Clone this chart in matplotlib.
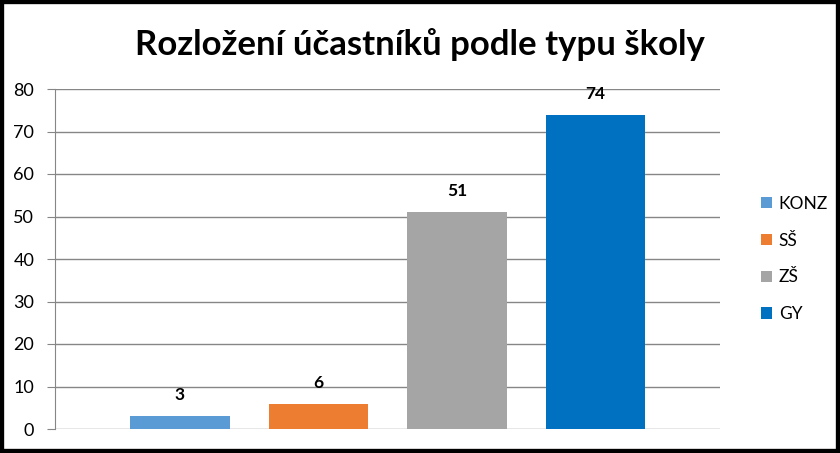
import matplotlib.pyplot as plt
from matplotlib.patches import Rectangle

categories = ["KONZ", "SŠ", "ZŠ", "GY"]
values = [3, 6, 51, 74]
colors = ["#5B9BD5", "#ED7D31", "#A5A5A5", "#0070C0"]
yticks = [0, 10, 20, 30, 40, 50, 60, 70, 80]

plt.rcParams['font.family'] = ['Lato', 'DejaVu Sans']

W, H = 840, 453
fig = plt.figure(figsize=(W / 100, H / 100), dpi=100)
ax = fig.add_axes([55 / W, 1 - 429 / H, (720 - 55) / W, (429 - 89) / H])

x = list(range(len(categories)))
bars = ax.bar(x, values, width=0.72, color=colors, label=categories, zorder=3)
for xi, v in zip(x, values):
    ax.text(xi, v + 3.0, str(v), ha='center', va='bottom', fontsize=12.5,
            fontweight='bold', color='#000000')

ax.set_xlim(-0.9025, 3.899)
ax.set_ylim(0, 80)
ax.set_yticks(yticks)
ax.set_xticks([])
ax.yaxis.grid(True, color='#868686', linewidth=1, zorder=0)
for s in ['top', 'right', 'bottom']:
    ax.spines[s].set_visible(False)
ax.spines['left'].set_color('#868686')
ax.tick_params(axis='y', length=6, color='#868686', labelsize=13, pad=9)

fig.text(0.5, 1 - 45 / H, "Rozložení účastníků podle typu školy", ha='center',
         va='center', fontsize=25, fontweight='bold')

leg = fig.legend(handles=bars, labels=categories, loc='center left',
                 bbox_to_anchor=(745 / W, 1 - 259 / H), frameon=False,
                 fontsize=12.5, handlelength=0.65, handleheight=0.65,
                 handletextpad=0.4, labelspacing=1.2)

fig.patches.append(Rectangle((0, 0), 1, 1, transform=fig.transFigure,
                             fill=False, edgecolor='black', linewidth=6))

fig.savefig("out.png", dpi=100)
